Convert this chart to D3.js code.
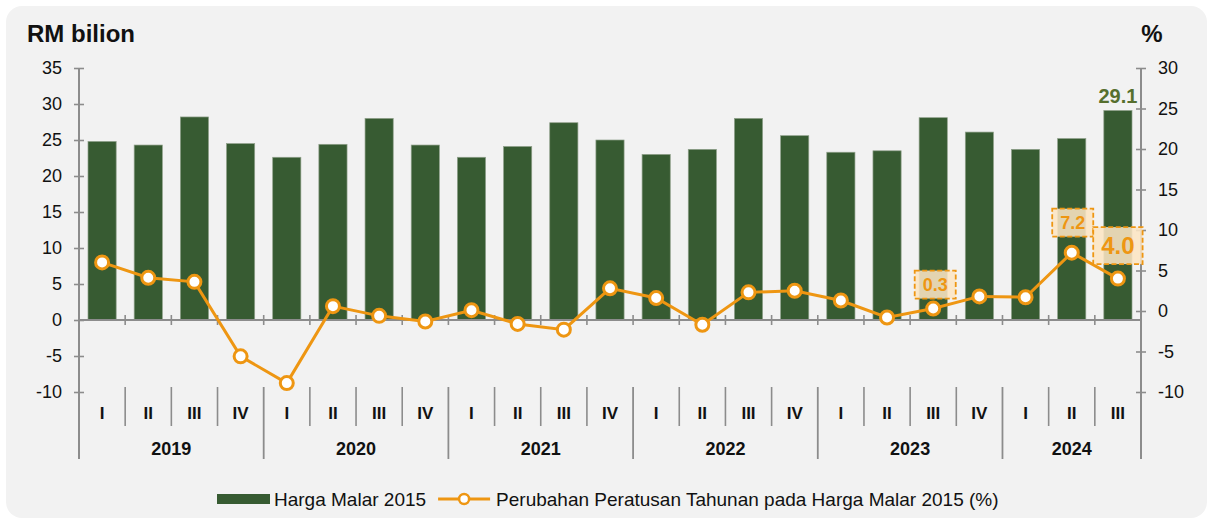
<!DOCTYPE html>
<html>
<head>
<meta charset="utf-8">
<script src="https://cdn.jsdelivr.net/npm/d3@7"></script>
<style>
  body { margin: 0; background: #ffffff; }
  svg { display: block; font-family: Arial, "Liberation Sans", sans-serif; }
</style>
</head>
<body>
<script>
// data
var quarters = ["I","II","III","IV","I","II","III","IV","I","II","III","IV",
                "I","II","III","IV","I","II","III","IV","I","II","III"];
var years = ["2019","2020","2021","2022","2023","2024"];
var hargaMalar = [24.8,24.3,28.2,24.5,22.6,24.4,28.0,24.3,22.6,24.1,27.4,25.0,
                  23.0,23.7,28.0,25.6,23.3,23.5,28.1,26.1,23.7,25.2,29.1];
var perubahan = [6.0,4.1,3.6,-5.6,-8.9,0.6,-0.6,-1.3,0.1,-1.6,-2.3,2.8,
                 1.6,-1.7,2.3,2.5,1.3,-0.8,0.3,1.8,1.7,7.2,4.0];
var leftTicks = [-10,-5,0,5,10,15,20,25,30,35];
var rightTicks = [-10,-5,0,5,10,15,20,25,30];
var labelledPoints = [18, 21, 22];
var legendNames = ["Harga Malar 2015", "Perubahan Peratusan Tahunan pada Harga Malar 2015 (%)"];

var W = 1213, H = 520;
var margin = {top: 68, left: 79, right: 72, bottom: 128};
var plotW = W - margin.left - margin.right;
var plotH = H - margin.top - margin.bottom;

var green = "#375b32";
var orange = "#ee9612";
var axisCol = "#8c8c8c";

var svg = d3.select("body").append("svg")
  .attr("width", W)
  .attr("height", H);

// background panel
svg.append("rect")
  .attr("x", 6).attr("y", 6)
  .attr("width", W - 12).attr("height", H - 8)
  .attr("rx", 16)
  .attr("fill", "#f2f2f2");

var g = svg.append("g")
  .attr("transform", "translate(" + margin.left + "," + margin.top + ")");

var idx = d3.range(quarters.length);
var x = d3.scaleBand().domain(idx).range([0, plotW]).paddingInner(0.39).paddingOuter(0.195);
var band = plotW / quarters.length;
var yL = d3.scaleLinear().domain([-10, 35]).range([plotH, 0]);
var yR = d3.scaleLinear().domain([-10, 30]).range([plotH, 0]);

var fmt = function(d) { return String(d); };

// bars
g.selectAll("rect.bar")
  .data(hargaMalar)
  .enter()
  .append("rect")
  .attr("class", "bar")
  .attr("x", function(d, i) { return x(i); })
  .attr("width", x.bandwidth())
  .attr("y", function(d) { return yL(d); })
  .attr("height", function(d) { return yL(0) - yL(d); })
  .attr("fill", green)
  .attr("stroke", "#8fa08a")
  .attr("stroke-width", 0.7);

// last bar value
var last = hargaMalar.length - 1;
g.append("text")
  .attr("x", x(last) + x.bandwidth() / 2)
  .attr("y", yL(hargaMalar[last]) - 7)
  .attr("text-anchor", "middle")
  .attr("font-size", 20)
  .attr("font-weight", "bold")
  .attr("fill", "#566f2e")
  .text(hargaMalar[last].toFixed(1));

// axes
var extra = 67;
var leftAxis = g.append("g")
  .call(d3.axisLeft(yL).tickValues(leftTicks).tickFormat(fmt).tickSize(5).tickSizeOuter(0).tickPadding(12));
var rightAxis = g.append("g")
  .attr("transform", "translate(" + plotW + ",0)")
  .call(d3.axisRight(yR).tickValues(rightTicks).tickFormat(fmt).tickSize(5).tickSizeOuter(0).tickPadding(12));

[leftAxis, rightAxis].forEach(function(ax) {
  ax.select(".domain").remove();
  ax.selectAll(".tick line").attr("stroke", axisCol).attr("stroke-width", 1.6);
  ax.selectAll(".tick text").attr("font-size", 18).attr("fill", "#111").attr("font-family", "Arial, 'Liberation Sans', sans-serif");
  ax.append("line")
    .attr("y1", 0).attr("y2", plotH + extra)
    .attr("stroke", axisCol).attr("stroke-width", 2);
});
leftAxis.selectAll(".tick line").attr("x1", 5);
rightAxis.selectAll(".tick line").attr("x1", -5);

// category baseline
var y0 = yL(0);
g.append("line")
  .attr("x1", 0).attr("x2", plotW)
  .attr("y1", y0).attr("y2", y0)
  .attr("stroke", axisCol).attr("stroke-width", 2);
g.selectAll("line.ctick")
  .data(d3.range(1, quarters.length))
  .enter().append("line")
  .attr("class", "ctick")
  .attr("x1", function(i) { return i * band; })
  .attr("x2", function(i) { return i * band; })
  .attr("y1", y0 - 5).attr("y2", y0 + 5)
  .attr("stroke", axisCol).attr("stroke-width", 1.6);

// category labels area
var sepTop = plotH - 5, qBottom = plotH + 34, yBottom = plotH + extra;
var yearStart = [];
quarters.forEach(function(q, i) { if (q === "I") yearStart.push(i); });

g.selectAll("line.qsep")
  .data(idx.slice(1).filter(function(i) { return quarters[i] !== "I"; }))
  .enter().append("line")
  .attr("class", "qsep")
  .attr("x1", function(i) { return i * band; })
  .attr("x2", function(i) { return i * band; })
  .attr("y1", sepTop).attr("y2", qBottom)
  .attr("stroke", axisCol).attr("stroke-width", 1.6);

g.selectAll("line.ysep")
  .data(yearStart.slice(1))
  .enter().append("line")
  .attr("class", "ysep")
  .attr("x1", function(i) { return i * band; })
  .attr("x2", function(i) { return i * band; })
  .attr("y1", sepTop).attr("y2", yBottom)
  .attr("stroke", axisCol).attr("stroke-width", 1.8);

g.selectAll("text.qlab")
  .data(quarters)
  .enter().append("text")
  .attr("class", "qlab")
  .attr("x", function(d, i) { return x(i) + x.bandwidth() / 2; })
  .attr("y", plotH + 27)
  .attr("text-anchor", "middle")
  .attr("font-size", 17)
  .attr("font-weight", "bold")
  .attr("fill", "#111")
  .text(function(d) { return d; });

g.selectAll("text.ylab")
  .data(years)
  .enter().append("text")
  .attr("class", "ylab")
  .attr("x", function(d, k) {
    var s = yearStart[k];
    var e = k + 1 < yearStart.length ? yearStart[k + 1] : quarters.length;
    return (s + e) / 2 * band;
  })
  .attr("y", plotH + 63)
  .attr("text-anchor", "middle")
  .attr("font-size", 18)
  .attr("font-weight", "bold")
  .attr("fill", "#111")
  .text(function(d) { return d; });

// line series
var cx = function(i) { return x(i) + x.bandwidth() / 2; };
var line = d3.line()
  .x(function(d, i) { return cx(i); })
  .y(function(d) { return yR(d); });

g.append("path")
  .datum(perubahan)
  .attr("d", line)
  .attr("fill", "none")
  .attr("stroke", orange)
  .attr("stroke-width", 3);

g.selectAll("circle.pt")
  .data(perubahan)
  .enter().append("circle")
  .attr("class", "pt")
  .attr("cx", function(d, i) { return cx(i); })
  .attr("cy", function(d) { return yR(d); })
  .attr("r", 6.5)
  .attr("fill", "#fff")
  .attr("stroke", orange)
  .attr("stroke-width", 3);

// point labels with dashed boxes
var labelStyle = {18: {size: 18, dy: -24, dx: 2}, 21: {size: 18, dy: -30, dx: 1}, 22: {size: 24, dy: -33, dx: 0}};
labelledPoints.forEach(function(i) {
  var st = labelStyle[i];
  var lg = g.append("g")
    .attr("transform", "translate(" + (cx(i) + st.dx) + "," + (yR(perubahan[i]) + st.dy) + ")");
  var box = lg.append("rect");
  var t = lg.append("text")
    .attr("text-anchor", "middle")
    .attr("dy", "0.36em")
    .attr("font-size", st.size)
    .attr("font-weight", "bold")
    .attr("fill", orange)
    .text(perubahan[i].toFixed(1));
  var bb = t.node().getBBox();
  var padX = st.size > 20 ? 8 : 8, padY = st.size > 20 ? 5 : 4;
  box.attr("x", bb.x - padX).attr("y", -bb.height / 2 - padY)
    .attr("width", bb.width + padX * 2).attr("height", bb.height + padY * 2)
    .attr("fill", "rgba(252, 229, 195, 0.88)")
    .attr("stroke", orange)
    .attr("stroke-width", 1.8)
    .attr("stroke-dasharray", "5,2.5");
});

// titles
svg.append("text")
  .attr("x", 27).attr("y", 42)
  .attr("font-size", 24).attr("font-weight", "bold").attr("fill", "#111")
  .text("RM bilion");
svg.append("text")
  .attr("x", margin.left + plotW + 11).attr("y", 42)
  .attr("text-anchor", "middle")
  .attr("font-size", 24).attr("font-weight", "bold").attr("fill", "#111")
  .text("%");

// legend
var leg = svg.append("g").attr("transform", "translate(217,499)");
leg.append("rect")
  .attr("x", 0).attr("y", -5).attr("width", 53).attr("height", 10)
  .attr("fill", green);
var t1 = leg.append("text")
  .attr("x", 57).attr("y", 0).attr("dy", "0.35em")
  .attr("font-size", 19).attr("fill", "#111")
  .text(legendNames[0]);
var lx = 57 + t1.node().getComputedTextLength() + 12;
leg.append("line")
  .attr("x1", lx).attr("x2", lx + 52)
  .attr("y1", 0).attr("y2", 0)
  .attr("stroke", orange).attr("stroke-width", 3);
leg.append("circle")
  .attr("cx", lx + 26).attr("cy", 0).attr("r", 5)
  .attr("fill", "#fff").attr("stroke", orange).attr("stroke-width", 2.5);
leg.append("text")
  .attr("x", lx + 58).attr("y", 0).attr("dy", "0.35em")
  .attr("font-size", 19).attr("fill", "#111")
  .text(legendNames[1]);
</script>
</body>
</html>
